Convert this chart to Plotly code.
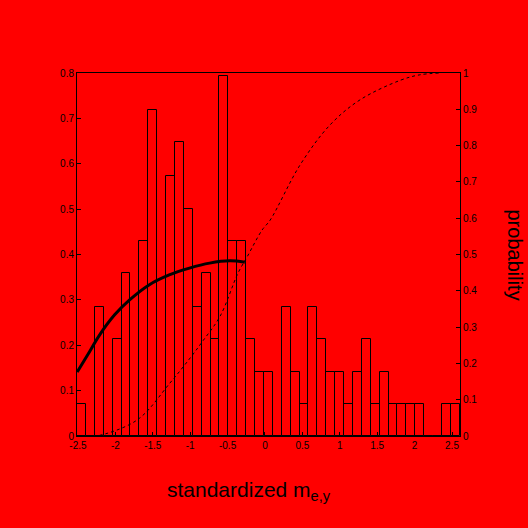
import plotly.graph_objects as go

# ---- data ----
bin_start = -2.513
bin_width = 0.119
bar_heights = [0.07, 0.0, 0.285, 0.0, 0.214, 0.36, 0.0, 0.43, 0.718, 0.0,
               0.573, 0.648, 0.50, 0.285, 0.36, 0.214, 0.793, 0.43, 0.43, 0.214,
               0.14, 0.14, 0.0, 0.285, 0.14, 0.07, 0.285, 0.214, 0.14, 0.14,
               0.07, 0.14, 0.214, 0.07, 0.14, 0.07, 0.07, 0.07, 0.07, 0.0,
               0.0, 0.07, 0.07]

cdf_x = [-2.37, -2.25, -1.71, -1.27, -1.00, -0.83, -0.60, -0.36, -0.24, -0.04,
         0.07, 0.47, 0.87, 1.27, 1.81, 2.07, 2.34]
cdf_y = [0.0, 0.0, 0.044, 0.146, 0.215, 0.262, 0.33, 0.449, 0.493, 0.567,
         0.595, 0.747, 0.857, 0.926, 0.98, 0.995, 1.0]

pdf_x = [-2.51, -2.37, -2.21, -2.01, -1.81, -1.55, -1.28, -1.01, -0.74, -0.47, -0.27]
pdf_y = [0.141, 0.179, 0.223, 0.267, 0.30, 0.333, 0.355, 0.370, 0.381, 0.386, 0.383]

x_ticks = [-2.5, -2, -1.5, -1, -0.5, 0, 0.5, 1, 1.5, 2, 2.5]
x_tick_labels = ["-2.5", "-2", "-1.5", "-1", "-0.5", "0", "0.5", "1", "1.5", "2", "2.5"]
left_ticks = [0, 0.1, 0.2, 0.3, 0.4, 0.5, 0.6, 0.7, 0.8]
left_tick_labels = ["0", "0.1", "0.2", "0.3", "0.4", "0.5", "0.6", "0.7", "0.8"]
right_ticks = [0, 0.1, 0.2, 0.3, 0.4, 0.5, 0.6, 0.7, 0.8, 0.9, 1.0]
right_tick_labels = ["0", "0.1", "0.2", "0.3", "0.4", "0.5", "0.6", "0.7", "0.8", "0.9", "1"]

x_title = "standardized m<sub>e,y</sub>"
y2_title = "probability"

# ---- figure ----
centers = [bin_start + bin_width * (i + 0.5) for i in range(len(bar_heights))]

fig = go.Figure()
fig.add_trace(go.Bar(
    x=centers, y=bar_heights, width=bin_width,
    marker=dict(color="rgba(0,0,0,0)", line=dict(color="black", width=1)),
    showlegend=False, hoverinfo="skip"))
fig.add_trace(go.Scatter(
    x=pdf_x, y=pdf_y, mode="lines", line=dict(color="black", width=3, shape="spline"),
    showlegend=False))
fig.add_trace(go.Scatter(
    x=cdf_x, y=cdf_y, mode="lines", yaxis="y2",
    line=dict(color="black", width=1, dash="dot", shape="spline"),
    showlegend=False))

font = dict(family="Liberation Sans, Arial, sans-serif", color="black")

fig.update_layout(
    width=528, height=528,
    paper_bgcolor="#ff0000", plot_bgcolor="#ff0000",
    margin=dict(l=77, r=68, t=73, b=92),
    font=dict(size=11, **font),
    bargap=0,
    xaxis=dict(range=[-2.513, 2.607], tickvals=x_ticks, ticktext=x_tick_labels,
               showgrid=False, zeroline=False, showline=True, linecolor="black",
               linewidth=1, mirror=True, ticks="inside", ticklen=4, tickcolor="black",
               tickfont=dict(size=10, **font)),
    yaxis=dict(range=[0, 0.8], tickvals=left_ticks, ticktext=left_tick_labels,
               showgrid=False, zeroline=False, showline=True, linecolor="black",
               linewidth=1, ticks="inside", ticklen=4, tickcolor="black",
               tickfont=dict(size=10, **font)),
    yaxis2=dict(range=[0, 1], overlaying="y", side="right",
                tickvals=right_ticks, ticktext=right_tick_labels,
                showgrid=False, zeroline=False, showline=True, linecolor="black",
                linewidth=1, ticks="inside", ticklen=4, tickcolor="black",
                tickfont=dict(size=10, **font)),
    annotations=[
        dict(text=x_title, xref="paper", yref="paper", x=0.0, y=0.0,
             xanchor="left", yanchor="middle", showarrow=False,
             font=dict(size=21, **font), xshift=88, yshift=-55),
        dict(text=y2_title, xref="paper", yref="paper", x=1.0, y=0.5,
             xanchor="center", yanchor="middle", showarrow=False, textangle=90,
             xshift=55, font=dict(size=20, **font)),
    ],
)

fig.write_html("out.html", config={"displayModeBar": False})

# remove the default page margin so the figure fills the window
with open("out.html", "r", encoding="utf-8") as f:
    html = f.read()
html = html.replace("<body>", '<body style="margin:0;background:#ff0000;">', 1)
with open("out.html", "w", encoding="utf-8") as f:
    f.write(html)
